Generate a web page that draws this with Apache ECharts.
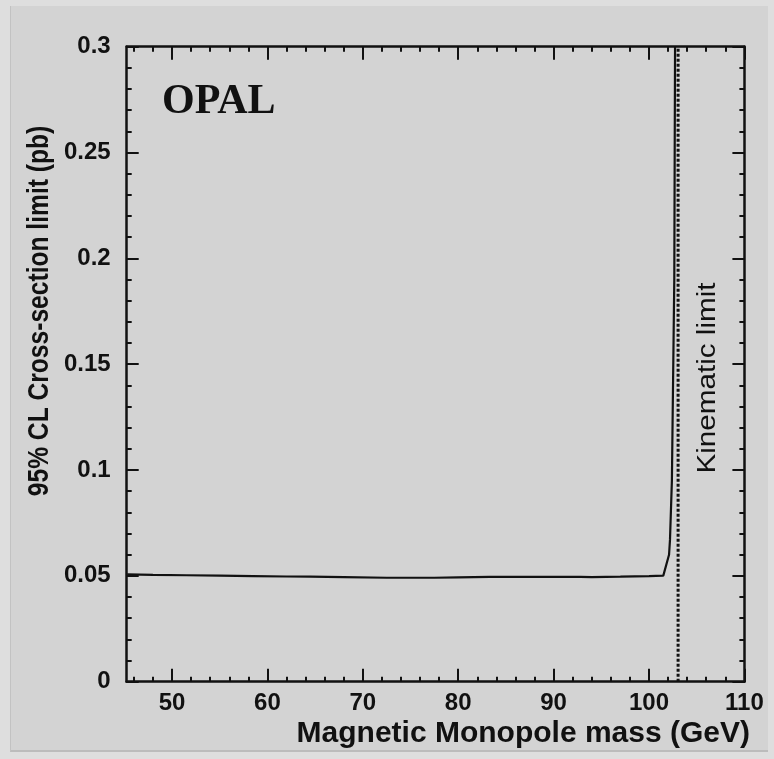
<!DOCTYPE html>
<html><head><meta charset="utf-8">
<script src="https://cdn.jsdelivr.net/npm/echarts@6/dist/echarts.min.js"></script>
<style>
html,body{margin:0;padding:0;background:#dedede;}
#wrap{position:relative;width:774px;height:759px;overflow:hidden;}
#panel{position:absolute;left:10px;top:6px;width:757px;height:744px;background:#d3d3d3;border-left:1px solid #c2c2c2;border-bottom:2px solid #bcbcbc;}
#c{position:absolute;left:0;top:0;width:774px;height:759px;}
</style>
</head><body>
<div id="wrap"><div id="panel"></div><div id="c"></div></div>
<script>
// Data
const massGeV  = [45.3, 48, 51.5, 55, 58.5, 62, 64.5, 68, 72.5, 75, 77.5, 80, 83.3, 88, 92.8, 94, 97, 100, 101.5, 101.7, 102.1, 102.2, 102.4, 102.65, 102.73];
const limitPb  = [0.0507, 0.0505, 0.0503, 0.0501, 0.0499, 0.0497, 0.0496, 0.0494, 0.0491, 0.0491, 0.0491, 0.0493, 0.0495, 0.0495, 0.0495, 0.0494, 0.0496, 0.0499, 0.0501, 0.0502, 0.060, 0.067, 0.095, 0.19, 0.30];
const kinematicLimitGeV = 103.05;
const kinematicY = [0, 0.3];

const xRange = [45.25, 110];
const yRange = [0, 0.3];
const xTicks = [50, 60, 70, 80, 90, 100, 110];
const xMinorTicks = [46, 48, 52, 54, 56, 58, 62, 64, 66, 68, 72, 74, 76, 78, 82, 84, 86, 88, 92, 94, 96, 98, 102, 104, 106, 108];
const yTicks = [0, 0.05, 0.1, 0.15, 0.2, 0.25, 0.3];
const yTickLabels = ['0', '0.05', '0.1', '0.15', '0.2', '0.25', '0.3'];

const xTitle = 'Magnetic Monopole mass (GeV)';
const yTitle = '95% CL Cross-section limit (pb)';
const experiment = 'OPAL';
const kinematicText = 'Kinematic limit';

const SANS = '"Liberation Sans", Arial, sans-serif';
const SERIF = '"Liberation Serif", "Times New Roman", serif';
const BLACK = '#111';

function xAx(pos, major) {
  return {
    type: 'value', position: pos, min: xRange[0], max: xRange[1],
    axisLine: { show: major, onZero: false, lineStyle: { color: BLACK, width: 2.5 } },
    axisTick: { show: true, inside: true, length: major ? 13 : 5,
      customValues: major ? xTicks : xMinorTicks, lineStyle: { color: BLACK, width: 2 } },
    axisLabel: { show: major && pos === 'bottom', customValues: xTicks, margin: 10,
      color: BLACK, fontFamily: SANS, fontWeight: 'bold', fontSize: 24 },
    splitLine: { show: false }
  };
}
function yAx(pos) {
  return {
    type: 'value', position: pos, min: yRange[0], max: yRange[1], interval: 0.05,
    axisLine: { show: true, onZero: false, lineStyle: { color: BLACK, width: 2.5 } },
    axisTick: { show: true, inside: true, length: 12, lineStyle: { color: BLACK, width: 2 } },
    minorTick: { show: true, splitNumber: 5, length: 5, lineStyle: { color: BLACK, width: 2 } },
    axisLabel: { show: pos === 'left', margin: 16, color: BLACK, fontFamily: SANS, fontWeight: 'bold', fontSize: 24,
      formatter: function (v) {
        const i = yTicks.findIndex(t => Math.abs(t - v) < 1e-9);
        return i >= 0 ? yTickLabels[i] : '';
      } },
    splitLine: { show: false }
  };
}

const chart = echarts.init(document.getElementById('c'), null, { renderer: 'canvas' });
chart.setOption({
  backgroundColor: 'transparent',
  animation: false,
  grid: { left: 126.7, right: 29.6, top: 46.7, bottom: 77.3, containLabel: false },
  xAxis: [xAx('bottom', true), xAx('bottom', false), xAx('top', true), xAx('top', false)],
  yAxis: [yAx('left'), yAx('right')],
  series: [
    {
      type: 'line', xAxisIndex: 0, yAxisIndex: 0, showSymbol: false, symbol: 'none',
      data: massGeV.map((m, i) => [m, limitPb[i]]),
      lineStyle: { color: BLACK, width: 2.2 }, z: 3
    },
    {
      type: 'line', xAxisIndex: 0, yAxisIndex: 0, showSymbol: false, symbol: 'none',
      data: kinematicY.map(y => [kinematicLimitGeV, y]),
      lineStyle: { color: BLACK, width: 3, type: [3, 2] }, z: 2
    }
  ],
  graphic: [
    { type: 'text', x: 162, y: 102, style: { text: experiment, font: 'bold 42px ' + SERIF, fill: BLACK, align: 'left', verticalAlign: 'middle' } },
    { type: 'text', x: 750, y: 734, style: { text: xTitle, font: 'bold 30px ' + SANS, fill: BLACK, align: 'right', verticalAlign: 'middle' } },
    { type: 'text', x: 40, y: 311, rotation: Math.PI / 2, scaleX: 0.82,
      style: { text: yTitle, font: 'bold 30px ' + SANS, fill: BLACK, align: 'center', verticalAlign: 'middle' } },
    { type: 'text', x: 708, y: 378, rotation: Math.PI / 2, scaleX: 1.14,
      style: { text: kinematicText, font: '26px ' + SANS, fill: BLACK, align: 'center', verticalAlign: 'middle' } }
  ]
});
</script>
</body></html>
